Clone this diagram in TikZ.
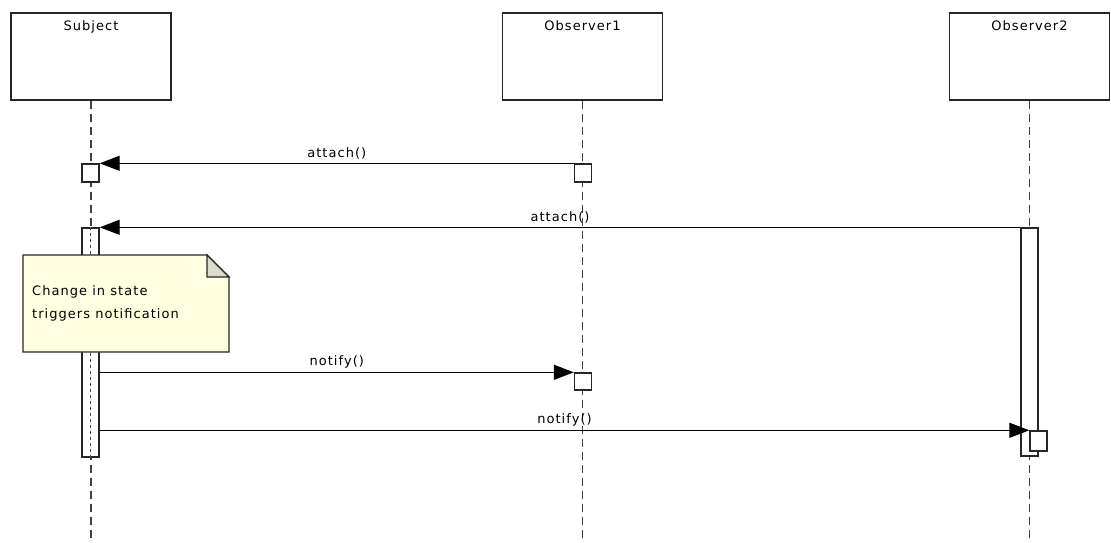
\documentclass[tikz,border=0pt]{standalone}
\usepackage{fontspec}
\newfontfamily\umlfont{DejaVu Sans}[LetterSpace=8]
\usetikzlibrary{arrows.meta}
\definecolor{notefill}{HTML}{FFFFE1}
\definecolor{notefold}{HTML}{DCDCCB}
\tikzset{
  hdr/.style={draw=black!85, line width=1.4pt, minimum width=160pt, minimum height=87pt, inner sep=0pt},
  act/.style={draw=black!85, fill=white, line width=1.4pt, minimum width=17pt, inner sep=0pt},
  lifeline/.style={draw=black!75, line width=1.6pt, dash pattern=on 8pt off 5pt},
  msg/.style={draw=black, line width=1.3pt, -{Triangle[length=20pt,width=15pt]}},
  lbl/.style={font=\umlfont\fontsize{13}{23}\selectfont},
}
\begin{document}
\begin{tikzpicture}[x=1pt, y=-1pt]
  \useasboundingbox[fill=white] (0,0) rectangle (1111,543);
  \coordinate (bottom) at (0,543);
  % objects
  \node[hdr, label={[lbl, anchor=north, yshift=-5pt]north:Subject}] (subj) at (91,56.5) {};
  \node[hdr, label={[lbl, anchor=north, yshift=-5pt]north:Observer1}] (obs1) at (582.5,56.5) {};
  \node[hdr, label={[lbl, anchor=north, yshift=-5pt]north:Observer2}] (obs2) at (1029.5,56.5) {};
  \draw[lifeline] (subj.south) -- (subj.south |- bottom);
  \draw[lifeline] (obs1.south) -- (obs1.south |- bottom);
  \draw[lifeline] (obs2.south) -- (obs2.south |- bottom);
  % activations
  \node[act, minimum height=18pt] (s1) at (90.5,173) {};
  \node[act, minimum height=229pt] (s2) at (90.5,342.5) {};
  \draw[black!70, line width=1.3pt, dash pattern=on 3pt off 3pt] (s2.north) -- (s2.south);
  \node[act, minimum height=18pt] (o1a) at (583,173) {};
  \node[act, minimum height=17pt] (o1b) at (583,381.5) {};
  \node[act, minimum height=228pt] (o2a) at (1029.5,342) {};
  \node[act, minimum height=20pt] (o2b) at (1038.5,441) {};
  % note
  \draw[black!85, line width=1.4pt, fill=notefill] (23,255) -- (207,255) -- (229,277) -- (229,352) -- (23,352) -- cycle;
  \draw[black!85, line width=1.4pt, fill=notefold] (207,255) -- (207,277) -- (229,277) -- cycle;
  \node[lbl, anchor=west, align=left, inner sep=0pt] (note) at (32,303.5) {Change in state\\triggers notification};
  % messages
  \draw[msg] (o1a.north west) -- node[lbl, above] {attach()} (s1.north east);
  \draw[msg] (o2a.north west) -- node[lbl, above] {attach()} (s2.north east);
  \draw[msg] (s2.east |- o1b.north) -- node[lbl, above] {notify()} (o1b.north west);
  \draw[msg] (s2.east |- o2b.north) -- node[lbl, above] {notify()} (o2b.north west);
\end{tikzpicture}
\end{document}
